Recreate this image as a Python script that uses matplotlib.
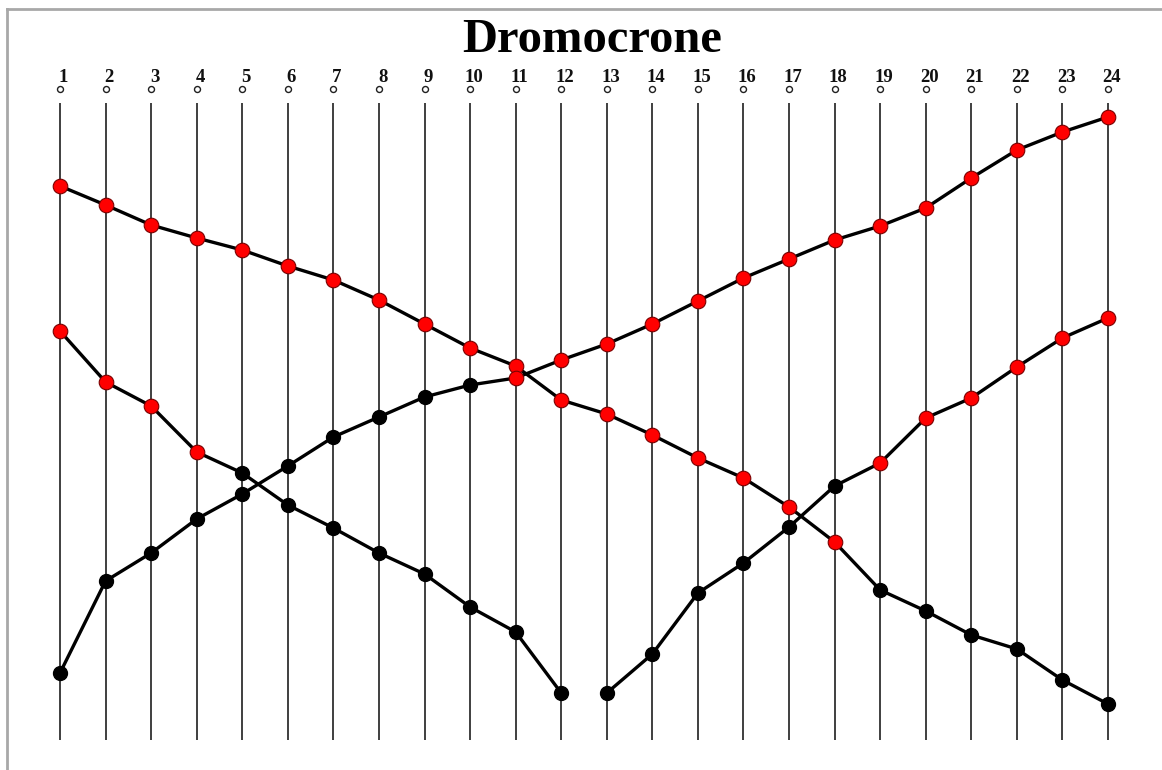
import matplotlib
matplotlib.use("Agg")
import matplotlib.pyplot as plt
from matplotlib.lines import Line2D

# ---- data (travel time, arbitrary units) ----
stations = list(range(1, 25))

series_a_x = list(range(1, 25))
series_a_t = [55.4, 53.5, 51.5, 50.2, 49.0, 47.4, 46.0, 44.0, 41.6, 39.2, 37.4, 34.0,
              32.6, 30.5, 28.2, 26.2, 23.3, 19.8, 15.0, 12.9, 10.5, 9.1, 6.0, 3.6]
series_a_red = [True] * 18 + [False] * 6

series_b_x = list(range(1, 13))
series_b_t = [40.9, 35.8, 33.4, 28.8, 26.7, 23.5, 21.2, 18.7, 16.6, 13.3, 10.8, 4.7]
series_b_red = [True] * 4 + [False] * 8

series_c_x = list(range(1, 25))
series_c_t = [6.7, 15.9, 18.7, 22.1, 24.6, 27.4, 30.3, 32.3, 34.3, 35.5, 36.2, 38.0,
              39.6, 41.6, 43.9, 46.2, 48.1, 50.0, 51.4, 53.2, 56.2, 59.0, 60.8, 62.3]
series_c_red = [False] * 10 + [True] * 14

series_d_x = list(range(13, 25))
series_d_t = [4.7, 8.6, 14.7, 17.7, 21.3, 25.4, 27.7, 32.2, 34.2, 37.3, 40.2, 42.2]
series_d_red = [False] * 6 + [True] * 6

station_labels = [str(s) for s in stations]
title = "Dromocrone"

# ---- figure ----
W, H = 1162, 770
fig = plt.figure(figsize=(W / 100, H / 100), dpi=100)
ax = fig.add_axes([0, 0, 1, 1])
ax.set_xlim(-0.3168, 25.185)
ax.set_ylim(-3.0, 74.0)
ax.axis("off")

serif = ["Liberation Serif", "DejaVu Serif"]

# vertical station lines
ax.vlines(stations, 0.0, 63.7, colors="#303030", linewidth=1.3, zorder=1)
# small open circles
ax.plot(stations, [65.1] * len(stations), linestyle="none", marker="o",
        markersize=4.3, markerfacecolor="white", markeredgecolor="#202020",
        markeredgewidth=1.0, zorder=2)
# station labels
for s, lab in zip(stations, station_labels):
    ax.text(s + 0.08, 66.3, lab, ha="center", va="center", fontsize=13.5,
            fontweight="bold", family=serif, color="#111111")

ax.text(0.5095, 0.9485, title, transform=ax.transAxes, ha="center", va="center",
        fontsize=35, fontweight="bold", family=serif, color="black")


def draw(xs, ts, reds, z):
    ax.plot(xs, ts, color="black", linewidth=2.4, zorder=z, solid_capstyle="round")
    bx = [x for x, r in zip(xs, reds) if not r]
    bt = [t for t, r in zip(ts, reds) if not r]
    rx = [x for x, r in zip(xs, reds) if r]
    rt = [t for t, r in zip(ts, reds) if r]
    ax.plot(bx, bt, linestyle="none", marker="o", markersize=10,
            markerfacecolor="black", markeredgecolor="black", zorder=z + 0.5)
    ax.plot(rx, rt, linestyle="none", marker="o", markersize=10.5,
            markerfacecolor="#ff0000", markeredgecolor="#7a0000",
            markeredgewidth=0.8, zorder=z + 0.5)


draw(series_a_x, series_a_t, series_a_red, 3)
draw(series_b_x, series_b_t, series_b_red, 5)
draw(series_d_x, series_d_t, series_d_red, 7)
draw(series_c_x, series_c_t, series_c_red, 9)

# light frame at left and top
fig.add_artist(Line2D([6.5 / W, 6.5 / W], [0, 1 - 9 / H], transform=fig.transFigure,
                      color="#a8a8a8", linewidth=2))
fig.add_artist(Line2D([6.5 / W, 1], [1 - 9 / H, 1 - 9 / H], transform=fig.transFigure,
                      color="#a8a8a8", linewidth=2))

fig.savefig("out.png", dpi=100, facecolor="white")
